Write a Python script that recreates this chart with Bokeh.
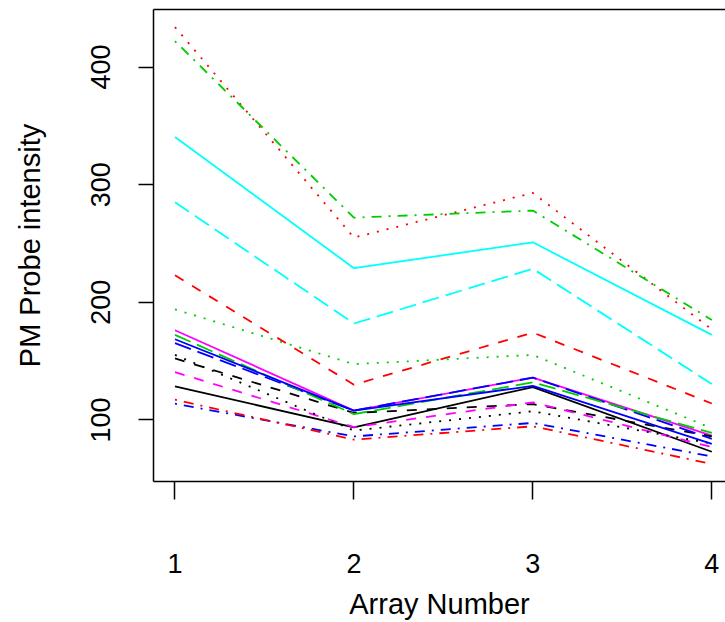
from bokeh.plotting import figure
from bokeh.models import LinearAxis, FixedTicker, Range1d
from bokeh.embed import file_html
from bokeh.resources import INLINE

# x positions (array numbers)
arrays = [1, 2, 3, 4]

# PM probe intensities, one list per probe (columns of the matplot)
probe_01 = [128.5, 93.8, 128.0, 73.0]
probe_02 = [223.0, 130.0, 174.3, 114.0]
probe_03 = [194.0, 147.5, 155.3, 93.0]
probe_04 = [113.8, 86.0, 97.5, 69.0]
probe_05 = [285.0, 182.0, 228.5, 130.5]
probe_06 = [176.3, 108.0, 136.0, 86.7]
probe_07 = [152.3, 106.0, 113.5, 86.0]
probe_08 = [434.0, 255.0, 293.0, 177.0]
probe_09 = [422.0, 272.0, 278.0, 185.0]
probe_10 = [165.3, 108.0, 136.0, 84.0]
probe_11 = [340.6, 229.0, 251.0, 172.3]
probe_12 = [140.7, 94.0, 115.0, 77.0]
probe_13 = [155.3, 91.0, 107.4, 80.0]
probe_14 = [117.2, 83.3, 94.6, 62.6]
probe_15 = [172.3, 105.0, 132.0, 89.0]
probe_16 = [168.6, 108.0, 129.0, 79.6]

probes = [probe_01, probe_02, probe_03, probe_04, probe_05, probe_06, probe_07, probe_08,
          probe_09, probe_10, probe_11, probe_12, probe_13, probe_14, probe_15, probe_16]

x_ticks = [1, 2, 3, 4]
y_ticks = [100, 200, 300, 400]

palette = ["#000000", "#FF0000", "#00CD00", "#0000FF", "#00FFFF", "#FF00FF"]
dashes = ["solid", "10 10", "2 8", "2 7 10 7", "17 7"]

FONT = "Liberation Sans"

p = figure(width=725, height=622, output_backend="svg", toolbar_location=None,
           x_range=Range1d(0.88, 4.0766), y_range=Range1d(47.7, 448.9),
           min_border_left=153, min_border_right=0, min_border_top=9,
           min_border_bottom=140, x_axis_location=None, y_axis_location=None)
p.outline_line_color = None
p.xgrid.visible = False
p.ygrid.visible = False
p.background_fill_color = "white"
p.border_fill_color = "white"

for i, vals in enumerate(probes):
    p.line(arrays, vals, line_color=palette[i % 6], line_dash=dashes[i % 5],
           line_width=1.8)

xaxis = LinearAxis(ticker=FixedTicker(ticks=x_ticks), axis_label="Array Number")
xaxis.major_tick_out = 18
xaxis.major_tick_in = 0
xaxis.minor_tick_out = 0
xaxis.minor_tick_in = 0
xaxis.major_label_standoff = 54
xaxis.axis_label_standoff = 12
xaxis.axis_line_width = 1.5
xaxis.major_tick_line_width = 1.5
xaxis.axis_line_color = "black"
xaxis.major_tick_line_color = "black"
xaxis.major_label_text_color = "black"
xaxis.axis_label_text_color = "black"
xaxis.major_label_text_font = FONT
xaxis.major_label_text_font_size = "27px"
xaxis.axis_label_text_font = FONT
xaxis.axis_label_text_font_size = "29px"
xaxis.axis_label_text_font_style = "normal"
p.add_layout(xaxis, "below")

yaxis = LinearAxis(ticker=FixedTicker(ticks=y_ticks), axis_label="PM Probe intensity")
yaxis.major_tick_out = 15
yaxis.major_tick_in = 0
yaxis.minor_tick_out = 0
yaxis.minor_tick_in = 0
yaxis.major_label_orientation = "vertical"
yaxis.major_label_standoff = 28
yaxis.axis_label_standoff = 43
yaxis.axis_line_width = 1.5
yaxis.major_tick_line_width = 1.5
yaxis.axis_line_color = "black"
yaxis.major_tick_line_color = "black"
yaxis.major_label_text_color = "black"
yaxis.axis_label_text_color = "black"
yaxis.major_label_text_font = FONT
yaxis.major_label_text_font_size = "27px"
yaxis.axis_label_text_font = FONT
yaxis.axis_label_text_font_size = "29px"
yaxis.axis_label_text_font_style = "normal"
p.add_layout(yaxis, "left")

top = LinearAxis(ticker=FixedTicker(ticks=[]))
top.major_tick_out = 0
top.major_tick_in = 0
top.minor_tick_out = 0
top.minor_tick_in = 0
top.major_label_text_font_size = "0px"
top.axis_line_width = 1.5
top.axis_line_color = "black"
p.add_layout(top, "above")

open("out.html", "w").write(file_html(p, INLINE))
